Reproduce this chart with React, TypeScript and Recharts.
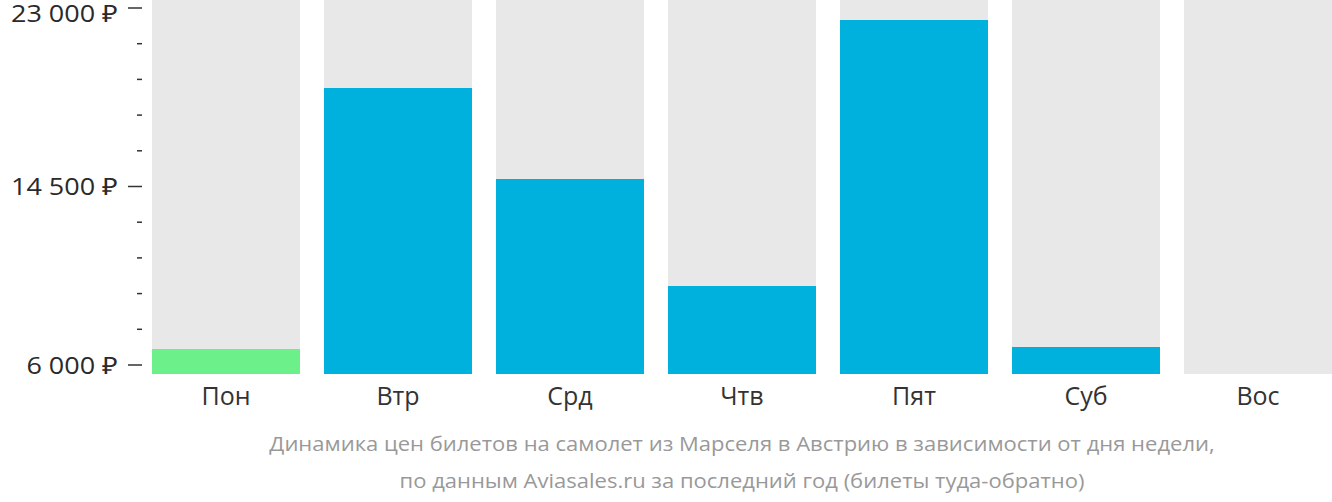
import { BarChart, Bar, XAxis, YAxis, Cell } from 'recharts';

const days = ['Пон', 'Втр', 'Срд', 'Чтв', 'Пят', 'Суб', 'Вос'];
const prices = [6760, 19190, 14860, 9760, 22430, 6860, null];
const cheapest = 'Пон';
const yTicks = [6000, 7700, 9400, 11100, 12800, 14500, 16200, 17900, 19600, 21300, 23000];
const yLabels = [6000, 14500, 23000];
const caption = [
    'Динамика цен билетов на самолет из Марселя в Австрию в зависимости от дня недели,',
    'по данным Aviasales.ru за последний год (билеты туда-обратно)',
];

const BLUE = '#00b0dd';
const GREEN = '#6cf18a';
const GREY = '#e8e8e8';
const FONT = '"Open Sans", sans-serif';
const Y_MIN = 5571;
const Y_MAX = 23381;

// the grey column behind every day runs to the top of the axis
const data = days.map((d, i) => ({ day: d, price: prices[i], full: Y_MAX }));

const fmt = (v: number) => v.toLocaleString('ru-RU').replace(/\s/g, ' ') + ' ₽';

function PriceTick(props: any) {
    const { x, y, payload } = props;
    const major = yLabels.includes(payload.value);
    // keep the top label inside the picture
    const ty = y < 12 ? y + 5 : y;
    return (
        <g>
            <line x1={major ? x - 12 : x - 3} x2={x + 2} y1={y} y2={y} stroke="#333" strokeWidth={1.5} />
            {major && (
                <text
                    transform={`translate(${x - 22},${ty}) scale(1.125,1)`}
                    dy="0.36em"
                    textAnchor="end"
                    fontSize={24}
                    fill="#2a2a2a"
                    fontFamily={FONT}
                >
                    {fmt(payload.value)}
                </text>
            )}
        </g>
    );
}

export default function App() {
    return (
        <div style={{ width: 1332, overflow: 'hidden', fontFamily: FONT }}>
            <style>{'body{margin:0}'}</style>
            <BarChart
                width={1344}
                height={420}
                data={data}
                margin={{ top: 0, right: 0, left: 0, bottom: 0 }}
                barCategoryGap={12}
            >
                <XAxis xAxisId="bg" dataKey="day" hide />
                <XAxis
                    dataKey="day"
                    height={46}
                    tickLine={false}
                    axisLine={false}
                    tickMargin={7}
                    tick={{ fontSize: 25, fill: '#333', fontFamily: FONT }}
                    interval={0}
                />
                <YAxis
                    width={140}
                    domain={[Y_MIN, Y_MAX]}
                    allowDataOverflow
                    ticks={yTicks}
                    interval={0}
                    tickSize={0}
                    tickMargin={0}
                    tickLine={false}
                    axisLine={false}
                    tick={<PriceTick />}
                />
                <Bar xAxisId="bg" dataKey="full" fill={GREY} isAnimationActive={false} />
                <Bar dataKey="price" isAnimationActive={false}>
                    {data.map((entry) => (
                        <Cell key={entry.day} fill={entry.day === cheapest ? GREEN : BLUE} />
                    ))}
                </Bar>
            </BarChart>
            <div
                style={{
                    marginTop: 5,
                    marginLeft: 152,
                    width: 1180,
                    textAlign: 'center',
                    color: '#999',
                    fontSize: 20,
                    lineHeight: '37px',
                    transform: 'scaleX(1.1)',
                }}
            >
                {caption.map((line) => (
                    <div key={line}>{line}</div>
                ))}
            </div>
        </div>
    );
}
